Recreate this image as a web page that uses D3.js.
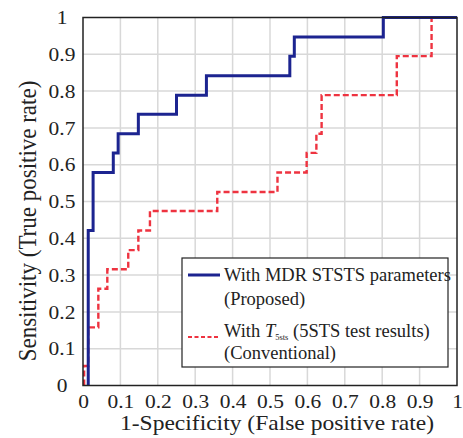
<!DOCTYPE html>
<html><head><meta charset="utf-8">
<script src="https://cdn.jsdelivr.net/npm/d3@7"></script>
<style>
body{margin:0;background:#fff}
</style></head>
<body><svg id="c" width="463" height="438" style="font-family:'Liberation Serif'"></svg>
<script>
const ticks = [0,0.1,0.2,0.3,0.4,0.5,0.6,0.7,0.8,0.9,1];
const tickLabels = ["0","0.1","0.2","0.3","0.4","0.5","0.6","0.7","0.8","0.9","1"];
// ROC step vertices (x = FPR where TPR jumps, y = TPR before jump)
const fprProposed = [0.014,0.027,0.081,0.094,0.148,0.25,0.33,0.553,0.565,0.803,1];
const tprProposed = [0,0.421,0.579,0.632,0.684,0.737,0.789,0.842,0.895,0.947,1];
const fprConventional = [0.003,0.014,0.041,0.065,0.121,0.148,0.179,0.359,0.52,0.598,0.624,0.638,0.839,0.932,1];
const tprConventional = [0,0.053,0.158,0.263,0.316,0.368,0.421,0.474,0.526,0.579,0.632,0.684,0.789,0.895,1];
const seriesNames = ["With MDR STSTS parameters","(Proposed)"];
const xTitle = "1-Specificity (False positive rate)";
const yTitle = "Sensitivity (True positive rate)";
const FF = "'Liberation Serif'";
const TC = "#222";
const SX = 1.1; // horizontal text stretch of the reference

const svg = d3.select("#c");
const L=83,R=457,T=17.5,B=385.5;
const x = d3.scaleLinear().domain([0,1]).range([L,R]);
const y = d3.scaleLinear().domain([0,1]).range([B,T]);

// grid
svg.append("g").selectAll("line").data(ticks.slice(1,-1)).join("line")
  .attr("x1",d=>x(d)).attr("x2",d=>x(d)).attr("y1",T).attr("y2",B)
  .attr("stroke","#d8d8d8").attr("stroke-width",1.5);
svg.append("g").selectAll("line").data(ticks.slice(1,-1)).join("line")
  .attr("y1",d=>y(d)).attr("y2",d=>y(d)).attr("x1",L).attr("x2",R)
  .attr("stroke","#d8d8d8").attr("stroke-width",1.5);

// x tick labels
const xa = svg.append("g").attr("transform",`translate(0,${B})`)
  .call(d3.axisBottom(x).tickValues(ticks).tickFormat((d,i)=>tickLabels[i]).tickSize(0).tickPadding(0));
xa.attr("font-family",null).attr("font-size",null);
xa.select(".domain").remove();
xa.selectAll("text").attr("y",0).attr("dy",null)
  .attr("transform",`translate(0,22) scale(${SX},1)`)
  .style("font-size","19.5px").attr("fill",TC).style("font-family",FF);
// y tick labels (centred)
const ya = svg.append("g").attr("transform",`translate(${L},0)`)
  .call(d3.axisLeft(y).tickValues(ticks).tickFormat((d,i)=>tickLabels[i]).tickSize(0).tickPadding(0));
ya.attr("font-family",null).attr("font-size",null);
ya.select(".domain").remove();
ya.selectAll("text").attr("x",0).attr("text-anchor","middle")
  .attr("transform",`translate(-21,0) scale(${SX},1)`)
  .style("font-size","19.5px").attr("fill",TC).style("font-family",FF);

svg.append("text").attr("transform",`translate(277,430) scale(1.12,1)`).attr("text-anchor","middle")
  .style("font-family",FF).style("font-size","21px").attr("fill",TC).text(xTitle);
svg.append("text").attr("transform",`translate(36,221) scale(${SX},1) rotate(-90)`).attr("text-anchor","middle")
  .style("font-family",FF).style("font-size","23px").attr("fill",TC).text(yTitle);

// curves
const line = d3.line().x(d=>x(d[0])).y(d=>y(d[1])).curve(d3.curveStepBefore);
const pA = fprProposed.map((v,i)=>[v,tprProposed[i]]);
const pB = fprConventional.map((v,i)=>[v,tprConventional[i]]);
svg.append("path").attr("d",line(pB)).attr("fill","none").attr("stroke","#ee3340")
  .attr("stroke-width",2.4).attr("stroke-dasharray","6,3");
svg.append("path").attr("d",line(pA)).attr("fill","none").attr("stroke","#1c2490")
  .attr("stroke-width",3);

// border
svg.append("rect").attr("x",L).attr("y",T).attr("width",R-L).attr("height",B-T)
  .attr("fill","none").attr("stroke","#222").attr("stroke-width",1.5);

// legend
const lg = svg.append("g").style("font-family",FF).style("font-size","18.5px").attr("fill",TC);
lg.append("rect").attr("x",182).attr("y",258).attr("width",266).attr("height",109)
  .attr("fill","#fff").attr("stroke","#222").attr("stroke-width",1.2);
lg.append("line").attr("x1",188).attr("x2",220).attr("y1",275).attr("y2",275)
  .attr("stroke","#1c2490").attr("stroke-width",3);
lg.append("text").attr("x",224).attr("y",281).text(seriesNames[0]);
lg.append("text").attr("x",224).attr("y",304.5).text(seriesNames[1]);
lg.append("line").attr("x1",188).attr("x2",220).attr("y1",337).attr("y2",337)
  .attr("stroke","#ee3340").attr("stroke-width",2).attr("stroke-dasharray","4,2.5");
const t3 = lg.append("text").attr("x",224).attr("y",337);
t3.append("tspan").text("With ");
t3.append("tspan").style("font-style","italic").text("T");
t3.append("tspan").attr("dy",3).style("font-size","8.5px").text("5sts");
t3.append("tspan").attr("dy",-3).text(" (5STS test results)");
lg.append("text").attr("x",224).attr("y",359).text("(Conventional)");
</script></body></html>
